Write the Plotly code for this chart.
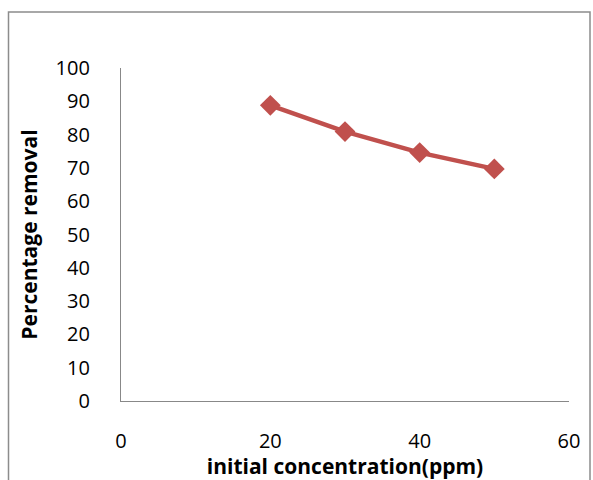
import plotly.graph_objects as go

concentration = [20, 30, 40, 50]
removal = [88.8, 80.9, 74.6, 69.7]
x_ticks = [0, 20, 40, 60]
y_ticks = [0, 10, 20, 30, 40, 50, 60, 70, 80, 90, 100]

W, H = 593, 480
L, R, T, B = 121, 24, 68, 79
pw, ph = W - L - R, H - T - B

fig = go.Figure()
fig.add_trace(go.Scatter(
    x=concentration, y=removal, mode="lines+markers",
    line=dict(color="#C0504D", width=4.5),
    marker=dict(symbol="diamond", size=16, color="#C0504D"),
    showlegend=False,
))

FAM = "Open Sans, sans-serif"
font = dict(family=FAM, size=20, color="#000000")
tfont = dict(family=FAM, size=21, color="#000000")

fig.update_layout(
    width=W, height=H,
    margin=dict(l=L, r=R, t=T, b=B, autoexpand=False),
    paper_bgcolor="white", plot_bgcolor="white",
    font=font,
    xaxis=dict(
        range=[0, 60], tickvals=x_ticks, showgrid=False, zeroline=False,
        showline=True, linecolor="#888888", linewidth=1.3,
        ticks="", ticklabelstandoff=22, tickfont=font, automargin=False,
        title=dict(text="<b>initial concentration(ppm)</b>", standoff=2, font=tfont),
    ),
    yaxis=dict(
        range=[0, 100], tickvals=y_ticks, showgrid=False, zeroline=False,
        showline=True, linecolor="#888888", linewidth=1.3,
        ticks="", ticklabelstandoff=26, tickfont=font, automargin=False,
        title=dict(text="<b>Percentage removal</b>", standoff=12, font=tfont),
    ),
)

# outer chart border
x0 = (8.5 - L) / pw
x1 = (590 - L) / pw
y1 = (H - B - 12) / ph
y0 = (H - B - 490) / ph
fig.add_shape(type="rect", xref="paper", yref="paper",
              x0=x0, x1=x1, y0=y0, y1=y1,
              line=dict(color="#8c8c8c", width=1.5), fillcolor="rgba(0,0,0,0)",
              layer="below")

fig.write_html("out.html")
